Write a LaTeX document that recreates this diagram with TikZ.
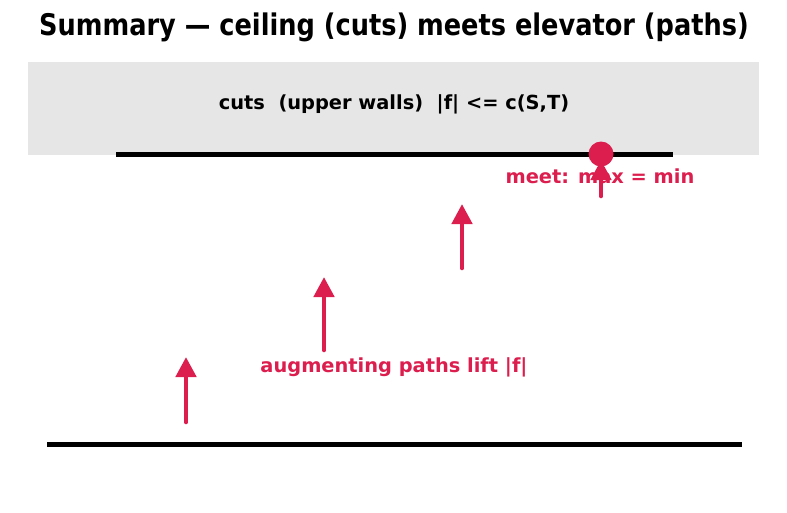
\documentclass[tikz,border=0pt]{standalone}
\usepackage{fontspec}
\setmainfont{DejaVu Sans}
\newfontfamily\titlefont[FakeStretch=0.86]{DejaVu Sans}
\usepackage{tikz}
\usetikzlibrary{arrows.meta,positioning}
\definecolor{crim}{RGB}{220,30,78}
\definecolor{band}{RGB}{230,230,230}
\tikzset{
  >=Triangle,
  wall/.style={line width=5pt, black},
  lift/.style={-{Triangle[length=20pt,width=20pt]}, line width=4.6pt, crim, line cap=round},
  lbl/.style={font=\bfseries\fontsize{19.4}{22}\selectfont, inner sep=0pt},
  rlbl/.style={lbl, text=crim}
}
\begin{document}
\begin{tikzpicture}[x=1pt,y=-1pt]
    \useasboundingbox (0,0) rectangle (787,512);

    % === Title ===
    \node[inner sep=0pt] (title) at (394,27) {\titlefont\bfseries\fontsize{29.8}{32}\selectfont Summary — ceiling (cuts) meets elevator (paths)};

    % === Ceiling: cuts ===
    \fill[band] (28,62) rectangle (759,155);
    \node[lbl] (cuts) at (394,104.5) {cuts~~(upper walls)~~|f| <= c(S,T)};
    \coordinate (ceilL) at (116,154);
    \coordinate (ceilR) at (673,154);
    \draw[wall] (ceilL) -- (ceilR);

    % === Floor ===
    \coordinate (floorL) at (47,444);
    \coordinate (floorR) at (742,444);
    \draw[wall] (floorL) -- (floorR);

    % labels
    \node[rlbl] (meet) at (600,176.5) {meet: max = min};
    \node[rlbl] (aug) at (394,367.5) {augmenting paths lift |f|};

    % === Augmenting steps ===
    \foreach \i/\x/\ya/\yb in {1/186/422/357, 2/324/350/277, 3/462/268/204, 4/601/196/160} {
        \coordinate (s\i) at (\x,\ya);
        \coordinate (t\i) at (\x,\yb);
        \draw[lift] (s\i) -- (t\i);
    }

    % meeting point
    \node[circle, fill=crim, inner sep=0pt, minimum size=25pt] (top) at (601,154) {};

\end{tikzpicture}
\end{document}
